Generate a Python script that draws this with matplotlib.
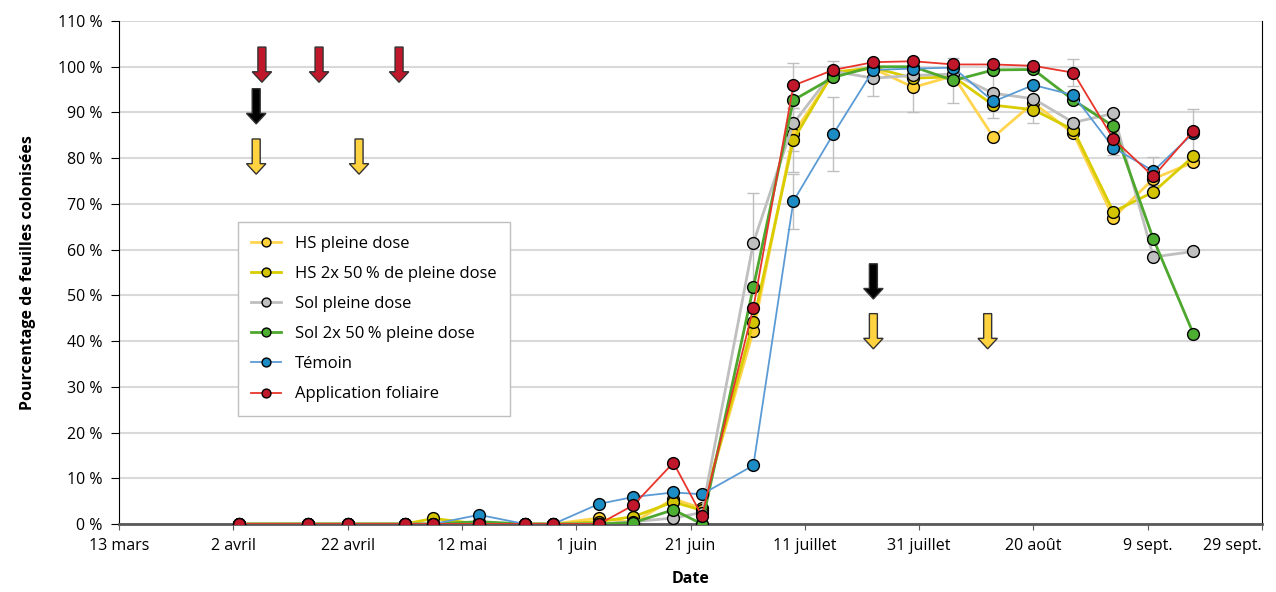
import numpy as np
import matplotlib
matplotlib.use("Agg")
import matplotlib.pyplot as plt
import matplotlib.dates as mdates
import matplotlib.transforms as mtransforms
from matplotlib.patches import FancyArrow
from datetime import date

plt.rcParams['font.family'] = ['Open Sans', 'DejaVu Sans']

# dates des relevés
dates = [date(2018, 4, 3), date(2018, 4, 15), date(2018, 4, 22), date(2018, 5, 2),
         date(2018, 5, 7), date(2018, 5, 15), date(2018, 5, 23), date(2018, 5, 28),
         date(2018, 6, 5), date(2018, 6, 11), date(2018, 6, 18), date(2018, 6, 23),
         date(2018, 7, 2), date(2018, 7, 9), date(2018, 7, 16), date(2018, 7, 23),
         date(2018, 7, 30), date(2018, 8, 6), date(2018, 8, 13), date(2018, 8, 20),
         date(2018, 8, 27), date(2018, 9, 3), date(2018, 9, 10), date(2018, 9, 17)]

# % de feuilles colonisées par modalité
hs_pleine = [0, 0, 0, 0, 0, 0, 0, 0, 1.3, 0.3, 5.5, 3.4,
             42.2, 85.3, 98.5, 99.6, 95.5, 98.0, 84.6, 92.1, 85.4, 67.0, 75.5, 79.1]
hs_2x50 = [0, 0, 0, 0, 1.2, 0, 0, 0, 0.5, 1.6, 4.8, 3.0,
           44.2, 84.0, 98.8, 99.8, 97.5, 97.8, 91.6, 90.6, 86.2, 68.3, 72.6, 80.4]
sol_pleine = [0, 0, 0, 0, 0, 0, 0, 0, 0, 0.5, 1.3, 2.5,
              61.5, 87.6, 99.0, 97.5, 98.1, 98.4, 94.2, 93.0, 87.8, 89.8, 58.4, 59.6]
sol_2x50 = [0, 0, 0, 0, 0, 0.5, 0, 0, 0, 0.3, 3.1, 0,
            51.8, 92.7, 97.7, 100.0, 100.0, 97.0, 99.3, 99.4, 92.7, 87.0, 62.3, 41.6]
temoin = [0, 0, 0, 0, 0, 2.0, 0, 0, 4.4, 5.9, 6.9, 6.5,
          12.8, 70.6, 85.3, 99.3, 99.6, 99.8, 92.4, 96.0, 93.8, 82.3, 77.2, 85.5]
foliaire = [0, 0, 0, 0, 0, 0, 0, 0, 0, 4.1, 13.4, 1.8,
            47.3, 95.9, 99.3, 101.0, 101.2, 100.5, 100.5, 100.2, 98.7, 84.2, 76.0, 86.0]

# écarts-types (0 = pas de barre)
err_hs_pleine = [0] * 16 + [5.5, 0, 0, 4.5, 0, 0, 0, 0]
err_hs_2x50 = [0] * 13 + [7.0] + [0] * 10
err_sol_pleine = [0] * 12 + [10.8, 6.0, 0, 3.8, 0, 0, 5.5, 0, 0, 0, 0, 0]
err_sol_2x50 = [0] * 17 + [5.0] + [0] * 6
err_temoin = [0] * 13 + [6.0, 8.0, 0, 0, 0, 0, 0, 0, 1.5, 3.1, 5.2]
err_foliaire = [0] * 13 + [5.0, 2.0, 0, 0, 0, 0, 0, 3.0, 0, 0, 0]

labels = ["HS pleine dose", "HS 2x 50\u202f% de pleine dose", "Sol pleine dose",
          "Sol 2x 50\u202f% pleine dose", "Témoin", "Application foliaire"]
series = [hs_pleine, hs_2x50, sol_pleine, sol_2x50, temoin, foliaire]
errors = [err_hs_pleine, err_hs_2x50, err_sol_pleine, err_sol_2x50, err_temoin, err_foliaire]
line_colors = ["#FFD54F", "#D9CC00", "#BFBFBF", "#4EA72E", "#5B9BD5", "#E8352B"]
face_colors = ["#FFD23A", "#D4C400", "#BFBFBF", "#4CAF32", "#1C8CC4", "#C0172B"]
line_widths = [2.0, 2.0, 2.0, 2.0, 1.3, 1.3]

# flèches des traitements : (date, haut de la flèche en %)
fleches_rouges = [(date(2018, 4, 7), 104.3), (date(2018, 4, 17), 104.3), (date(2018, 5, 1), 104.3)]
fleches_noires = [(date(2018, 4, 6), 95.2), (date(2018, 7, 23), 56.9)]
fleches_jaunes = [(date(2018, 4, 6), 84.2), (date(2018, 4, 24), 84.2),
                  (date(2018, 7, 23), 46.0), (date(2018, 8, 12), 46.0)]

x_ticks = [date(2018, 3, 13), date(2018, 4, 2), date(2018, 4, 22), date(2018, 5, 12),
           date(2018, 6, 1), date(2018, 6, 21), date(2018, 7, 11), date(2018, 7, 31),
           date(2018, 8, 20), date(2018, 9, 9), date(2018, 9, 29)]
x_labels = ["13 mars", "2 avril", "22 avril", "12 mai", "1 juin", "21 juin",
            "11 juillet", "31 juillet", "20 août", "9 sept.", "29 sept."]

fig = plt.figure(figsize=(12.76, 5.92), dpi=100)
ax = fig.add_axes([0.0933, 0.1149, 0.8957, 0.8496])

x = mdates.date2num(dates)

for ys, err, lab, lc, fc, lw in zip(series, errors, labels, line_colors, face_colors, line_widths):
    ys = np.array(ys)
    err = np.array(err)
    m = err > 0
    ax.errorbar(x[m], ys[m], yerr=err[m], fmt='none', ecolor='#BFBFBF',
                elinewidth=1, capsize=4, capthick=1, zorder=2)
    ax.plot(x, ys, color=lc, lw=lw, marker='o', markersize=8.5,
            markerfacecolor=fc, markeredgecolor='black', markeredgewidth=1,
            label=lab, zorder=3)

def fleche(xd, ytop, couleur):
    xn = mdates.date2num(xd)
    ax.add_patch(FancyArrow(xn, ytop, 0, -7.7, width=1.4, head_width=3.4,
                            head_length=2.3, length_includes_head=True,
                            facecolor=couleur, edgecolor='#333333', lw=1, zorder=5))

for d, y in fleches_rouges:
    fleche(d, y, "#C0172B")
for d, y in fleches_noires:
    fleche(d, y, "black")
for d, y in fleches_jaunes:
    fleche(d, y, "#FFD23F")

ax.set_xlim(mdates.date2num(date(2018, 3, 13)), mdates.date2num(date(2018, 9, 29)))
ax.set_ylim(0, 110)
ax.set_xticks(mdates.date2num(x_ticks))
ax.set_xticklabels(x_labels, fontsize=11.5)
ax.set_yticks(np.arange(0, 111, 10))
ax.set_yticklabels([f"{v} %" for v in range(0, 111, 10)], fontsize=11.5)
ax.grid(axis='y', color='#D9D9D9', lw=1.5, zorder=0)
ax.set_axisbelow(True)

# la dernière étiquette est calée à droite pour rester dans la figure
last = ax.get_xticklabels()[-1]
last.set_horizontalalignment('right')
last.set_transform(last.get_transform() + mtransforms.ScaledTranslation(0.10, 0, fig.dpi_scale_trans))

ax.spines['top'].set_visible(False)
ax.spines['left'].set_color('black')
ax.spines['right'].set_color('black')
ax.spines['bottom'].set_color('#595959')
ax.spines['bottom'].set_linewidth(2)
ax.tick_params(axis='y', direction='out', length=6, color='black', pad=6)
ax.tick_params(axis='x', direction='out', length=4, color='#595959', pad=6)

ax.set_ylabel("Pourcentage de feuilles colonisées", fontsize=11.5, fontweight='bold', labelpad=16)
ax.set_xlabel("Date", fontsize=11.5, fontweight='bold', labelpad=12)

leg = ax.legend(loc='upper left', bbox_to_anchor=(0.104, 0.600), borderaxespad=0,
                fontsize=12, frameon=True, fancybox=False, edgecolor='#BFBFBF',
                framealpha=1, handlelength=1.8, markerscale=0.75, borderpad=0.8,
                labelspacing=0.85)
leg.get_frame().set_linewidth(1)

fig.savefig("out.png", dpi=100)
